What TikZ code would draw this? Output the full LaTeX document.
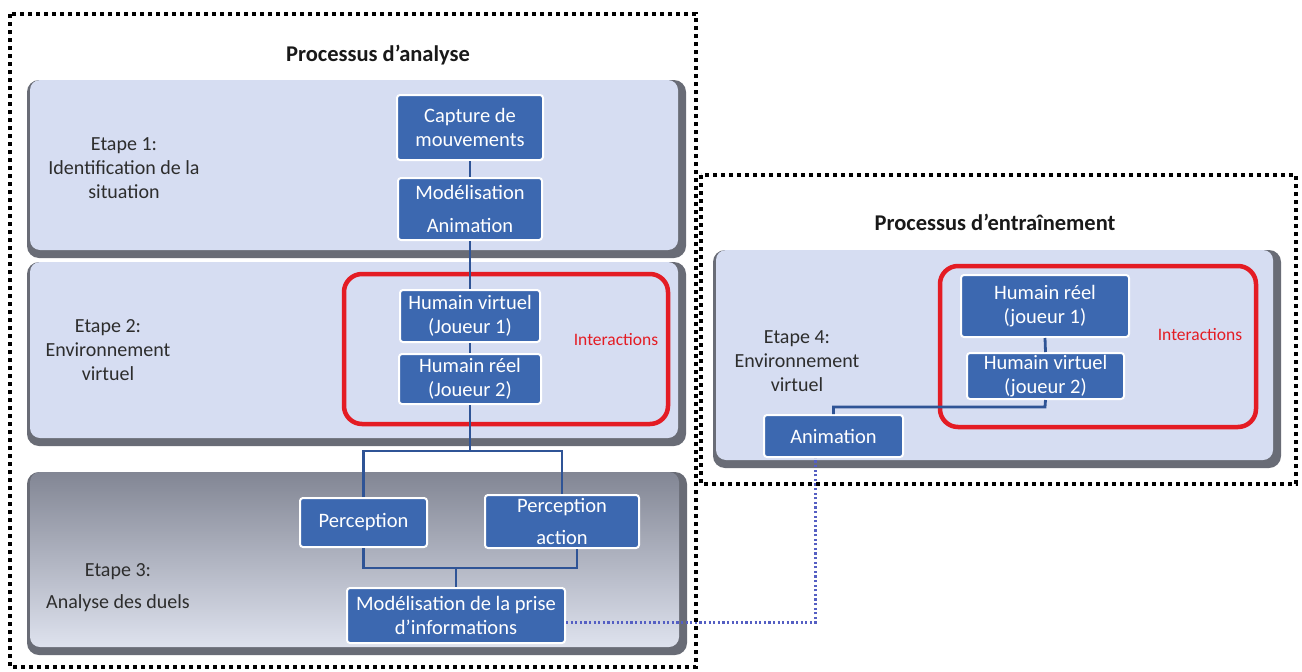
\documentclass[tikz,border=0pt]{standalone}
\usepackage{fontspec}
\setmainfont{Carlito}
\usetikzlibrary{calc}
\definecolor{panelfill}{RGB}{214,221,242}
\definecolor{paneledge}{RGB}{105,108,118}
\definecolor{boxblue}{RGB}{60,104,176}
\definecolor{linkblue}{RGB}{47,84,150}
\definecolor{redframe}{RGB}{228,28,36}
\definecolor{textgray}{RGB}{45,45,45}
\definecolor{dotblue}{RGB}{85,95,195}
\definecolor{ptop}{RGB}{130,134,148}
\definecolor{pbot}{RGB}{222,226,238}
\newcommand\mypanel[4]{%
  \fill[paneledge, rounded corners=12pt] (#1,#2) rectangle (#3,#4);
  \fill[panelfill, rounded corners=10pt] (#1+3,#2) rectangle (#3-8,#4-8);}
\begin{document}
\begin{tikzpicture}[x=1pt,y=-1pt,
  box/.style={draw=white, line width=2pt, fill=boxblue, text=white, rounded corners=3pt, align=center, font=\fontsize{20.5}{23.5}\selectfont, inner sep=0pt},
  link/.style={draw=linkblue, line width=2.8pt},
  redbox/.style={draw=redframe, line width=4.5pt, rounded corners=18pt, inner sep=0pt},
  dotbox/.style={draw=black, line width=3.6pt, dash pattern=on 3.6pt off 4.4pt},
  etape/.style={text=textgray, align=center, font=\fontsize{20}{24}\selectfont},
  ptitle/.style={font=\bfseries\fontsize{22.5}{26}\selectfont, text=black!90},
  inter/.style={text=redframe, font=\fontsize{17.5}{21}\selectfont},
  bluedot/.style={draw=dotblue, line width=2.4pt, dash pattern=on 2.2pt off 2.4pt},
]
\useasboundingbox (0,0) rectangle (1302,672);
\fill[white] (0,0) rectangle (1302,672);

% panels
\mypanel{27}{80}{686}{258}
\mypanel{27}{262}{686}{446}
\fill[paneledge, rounded corners=12pt] (27,472) rectangle (687,655);
\shade[top color=ptop, bottom color=pbot, rounded corners=10pt] (30,472) rectangle (679,647);
\mypanel{713}{250}{1281}{468}

% red frames
\node[redbox, minimum width=324pt, minimum height=150pt] (frameA) at (506,349) {};
\node[redbox, minimum width=316pt, minimum height=161pt] (frameB) at (1098,346.5) {};

% boxes
\node[box, minimum width=146pt, minimum height=65pt] (capt) at (470,127.5) {Capture de\\mouvements};
\node[box, minimum width=144pt, minimum height=62pt] (model) at (470,209) {Modélisation\\[9pt]Animation};
\node[box, minimum width=140pt, minimum height=52pt] (hv1) at (470,316) {Humain virtuel\\(Joueur 1)};
\node[box, minimum width=142pt, minimum height=50pt] (hr2) at (470,379) {Humain réel\\(Joueur 2)};
\node[box, minimum width=127pt, minimum height=49pt] (perc) at (363.5,522.5) {Perception};
\node[box, minimum width=154pt, minimum height=53pt] (perca) at (562,521.5) {Perception\\[8pt]action};
\node[box, minimum width=218pt, minimum height=55pt] (prise) at (456,615.5) {Modélisation de la prise\\d'informations};
\node[box, minimum width=168pt, minimum height=62pt] (hr1) at (1045,306) {Humain réel\\(joueur 1)};
\node[box, minimum width=157pt, minimum height=46pt] (hv2) at (1045.5,376) {Humain virtuel\\(joueur 2)};
\node[box, minimum width=139pt, minimum height=42pt] (anim) at (833.5,436) {Animation};

% connectors
\coordinate (j1) at (470,451);
\coordinate (j2) at (456,568);
\coordinate (j3) at (1045,407);
\draw[link] (capt.south) -- (model.north);
\draw[link] (model.south) -- (hv1.north);
\draw[link] (hv1.south) -- (hr2.north);
\draw[link] (hr2.south) -- (j1);
\draw[link] (perc.north) |- (j1) -| (perca.north);
\draw[link] (perc.south) |- (j2) -| ([xshift=15pt]perca.south);
\draw[link] (j2) -- (prise.north);
\draw[link] (hr1.south) -- (hv2.north);
\draw[link] (hv2.south) -- (j3) -| (anim.north);
\draw[bluedot] ([yshift=-7pt]prise.east) -| ([xshift=-18pt]anim.south);

% texts
\node[ptitle] (t1) at (378,55) {Processus d’analyse};
\node[ptitle] (t2) at (995,222) {Processus d’entraînement};
\node[etape] (e1) at (124,168) {Etape 1:\\Identification de la\\situation};
\node[etape] (e2) at (108,350) {Etape 2:\\Environnement\\virtuel};
\node[etape] (e3) at (118,588) {Etape 3:\\[8pt]Analyse des duels};
\node[etape] (e4) at (797,361) {Etape 4:\\Environnement\\virtuel};
\node[inter] (i1) at (616,340) {Interactions};
\node[inter] (i2) at (1200,335) {Interactions};

% dotted frames
\draw[dotbox] (10,14) rectangle (696,667);
\draw[dotbox] (701,175) rectangle (1296,484);
\end{tikzpicture}
\end{document}
